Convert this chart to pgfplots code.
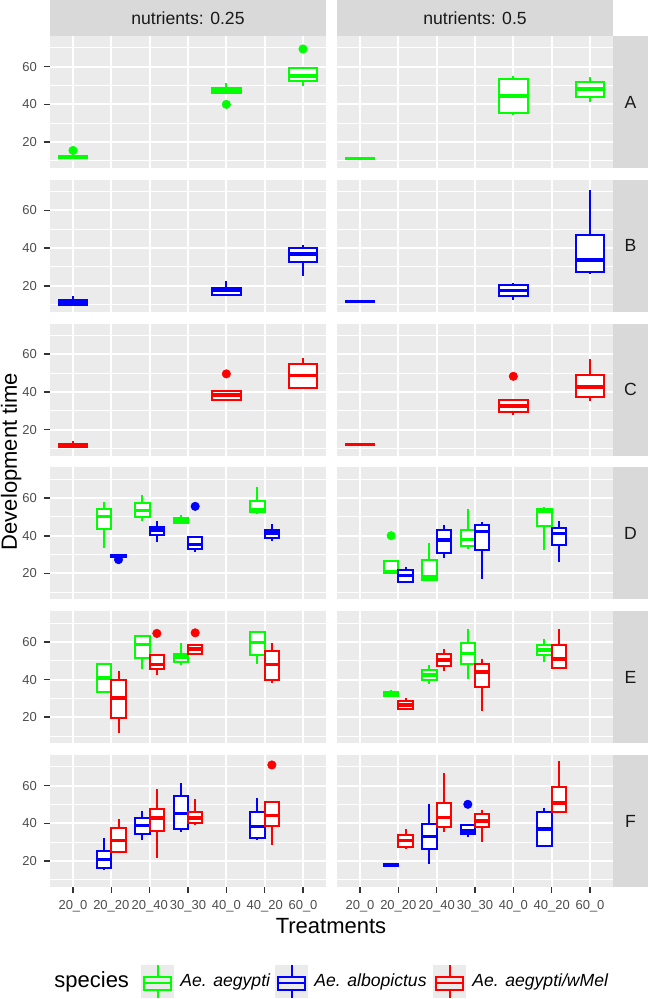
\documentclass[border=0pt]{standalone}
\usepackage{fontspec}
\setmainfont{Liberation Sans}
\usepackage{pgfplots}
\pgfplotsset{compat=1.18}
\usepgfplotslibrary{groupplots}

\definecolor{panelbg}{HTML}{EBEBEB}
\definecolor{stripbg}{HTML}{D9D9D9}
\definecolor{ticklab}{HTML}{4D4D4D}
\definecolor{tickcol}{HTML}{333333}
\definecolor{cg}{HTML}{00FF00}
\definecolor{cb}{HTML}{0000FF}
\definecolor{cr}{HTML}{FF0000}

% one box: colour, position, half width, lower whisker, Q1, median, Q3, upper whisker
\newcommand{\B}[8]{%
  \pgfmathsetmacro\xa{#2-#3}\pgfmathsetmacro\xb{#2+#3}%
  \edef\tmp{%
    \noexpand\addplot[#1, line width=1pt] coordinates {(#2,#4) (#2,#8)};
    \noexpand\addplot[#1, line width=1pt, fill=white, line join=miter]
      coordinates {(\xa,#5) (\xb,#5) (\xb,#7) (\xa,#7) (\xa,#5)} -- cycle;
    \noexpand\addplot[#1, line width=1.8pt] coordinates {(\xa,#6) (\xb,#6)};
  }\tmp}
% outliers: colour, points
\newcommand{\Ou}[2]{\addplot[#1, only marks, mark=*, mark size=2.1pt,
  mark options={solid, fill=#1, draw=#1, line width=0.3pt}] coordinates {#2};}

\newcommand{\legkey}[2]{%
  \fill[panelbg] (#2pt-8.25pt,-482.5pt) rectangle (#2pt+8.25pt,-499pt);
  \draw[#1, line width=1pt] (#2pt,-482.5pt) -- (#2pt,-488.3pt) (#2pt,-495pt) -- (#2pt,-499pt);
  \draw[#1, line width=1pt] (#2pt-6.9pt,-488.3pt) rectangle (#2pt+6.9pt,-495pt);
  \draw[#1, line width=1pt] (#2pt-6.9pt,-491.65pt) -- (#2pt+6.9pt,-491.65pt);}

\pgfplotsset{
  noxt/.style={xtick style={draw=none}, xticklabels={}},
  noyt/.style={ytick style={draw=none}, yticklabels={}},
}

\begin{document}
\begin{tikzpicture}
\begin{groupplot}[
  group style={group size=2 by 6, horizontal sep=5.5pt, vertical sep=5.9pt},
  width=138pt, height=66pt, scale only axis,
  xmin=0.4, xmax=7.6, ymin=6.2, ymax=76.3,
  xtick={1,...,7}, ytick={20,40,60}, minor ytick={10,30,50,70},
  xticklabels={20\_0,20\_20,20\_40,30\_30,40\_0,40\_20,60\_0},
  axis background/.style={fill=panelbg},
  axis line style={draw=none},
  xmajorgrids, ymajorgrids, yminorgrids,
  major grid style={white, line width=1pt},
  minor grid style={white, line width=0.5pt},
  tick align=outside, tick pos=left,
  major tick length=3pt, minor tick length=0pt,
  tick style={tickcol, line width=0.8pt},
  ticklabel style={font=\fontsize{6.5}{7.5}\selectfont, text=ticklab},
  /pgf/number format/assume math mode=true,
]
% ---- A
\nextgroupplot[noxt]
\B{cg}{1}{0.375}{11}{11.5}{12}{12.7}{13.5}
\B{cg}{5}{0.375}{46}{46.2}{47.5}{48.8}{51.2}
\B{cg}{7}{0.375}{49.8}{52.4}{55}{59.1}{59.1}
\Ou{cg}{(1,15.5) (5,40) (7,69.4)}
\nextgroupplot[noxt,noyt]
\B{cg}{1}{0.375}{10.8}{11}{11.3}{11.6}{11.8}
\B{cg}{5}{0.375}{34.4}{35.3}{44.5}{53.5}{55}
\B{cg}{7}{0.375}{41.1}{43.8}{48}{52.1}{54.7}
% ---- B
\nextgroupplot[noxt]
\B{cb}{1}{0.375}{9.4}{9.6}{10.9}{12.2}{14.7}
\B{cb}{5}{0.375}{14.7}{15.1}{17.6}{18.8}{22.3}
\B{cb}{7}{0.375}{25.4}{32.6}{37}{40.1}{41.8}
\nextgroupplot[noxt,noyt]
\B{cb}{1}{0.375}{11.2}{11.3}{11.6}{11.9}{12}
\B{cb}{5}{0.375}{12.6}{14.7}{17.6}{20.6}{21.5}
\B{cb}{7}{0.375}{26.4}{27.1}{33.8}{47.1}{71}
% ---- C
\nextgroupplot[noxt]
\B{cr}{1}{0.375}{10.3}{10.5}{11.6}{12.6}{14.2}
\B{cr}{5}{0.375}{35.4}{35.6}{38.3}{40.4}{40.4}
\B{cr}{7}{0.375}{42.2}{42.2}{48.7}{55.1}{58.1}
\Ou{cr}{(5,49.6)}
\nextgroupplot[noxt,noyt]
\B{cr}{1}{0.375}{11.6}{11.8}{12.1}{12.4}{12.8}
\B{cr}{5}{0.375}{27.5}{29.4}{32.4}{35.6}{35.6}
\B{cr}{7}{0.375}{35}{37.2}{42.5}{49.2}{57.6}
\Ou{cr}{(5,48.3)}
% ---- D
\nextgroupplot[noxt]
\B{cg}{1.8125}{0.1875}{33.5}{43.6}{50.3}{54}{57.9}
\B{cb}{2.1875}{0.1875}{28.6}{28.8}{29.5}{30}{30.2}
\B{cg}{2.8125}{0.1875}{47.8}{49.9}{53.5}{57.3}{61.4}
\B{cb}{3.1875}{0.1875}{36.7}{40.4}{43}{44.8}{47.6}
\B{cg}{3.8125}{0.1875}{47}{47}{48.3}{49.4}{51.2}
\B{cb}{4.1875}{0.1875}{31.6}{33}{35.3}{39.5}{39.5}
\B{cg}{5.8125}{0.1875}{51.3}{52.4}{54}{58.4}{65.8}
\B{cb}{6.1875}{0.1875}{37.3}{38.9}{41.6}{43.1}{46}
\Ou{cb}{(2.1875,27.3) (4.1875,55.6)}
\nextgroupplot[noxt,noyt]
\B{cg}{1.8125}{0.1875}{20.1}{20.1}{20.8}{26.7}{26.7}
\B{cb}{2.1875}{0.1875}{14.8}{15.2}{18.8}{21.9}{23.2}
\B{cg}{2.8125}{0.1875}{16.7}{16.7}{18}{27.3}{36}
\B{cb}{3.1875}{0.1875}{28}{30.9}{37.6}{43.3}{45.6}
\B{cg}{3.8125}{0.1875}{33.2}{34.5}{38.1}{43.3}{54}
\B{cb}{4.1875}{0.1875}{17.2}{32.2}{42.3}{45.8}{47.5}
\B{cg}{5.8125}{0.1875}{32.6}{45.2}{52.9}{54.4}{55.2}
\B{cb}{6.1875}{0.1875}{26}{35}{41.2}{44.3}{48}
\Ou{cg}{(1.8125,40)}
% ---- E
\nextgroupplot[noxt]
\B{cg}{1.8125}{0.1875}{33}{33.2}{40.9}{48}{48.3}
\B{cr}{2.1875}{0.1875}{11.7}{19.7}{30.3}{39.7}{44.5}
\B{cg}{2.8125}{0.1875}{45.4}{51.5}{58.6}{63}{63.9}
\B{cr}{3.1875}{0.1875}{42.3}{45.5}{48}{53}{53}
\B{cg}{3.8125}{0.1875}{47.6}{49.1}{52}{53.8}{59.5}
\B{cr}{4.1875}{0.1875}{53.5}{53.5}{56.1}{58.3}{58.3}
\B{cg}{5.8125}{0.1875}{48.5}{53}{59.7}{65.3}{66}
\B{cr}{6.1875}{0.1875}{38.3}{39.7}{48}{55.2}{59.2}
\Ou{cr}{(3.1875,64.5) (4.1875,64.8)}
\nextgroupplot[noxt,noyt]
\B{cg}{1.8125}{0.1875}{31.2}{31.2}{32.3}{33.2}{34.4}
\B{cr}{2.1875}{0.1875}{23.8}{24.3}{26.5}{28.7}{30.3}
\B{cg}{2.8125}{0.1875}{37.6}{39.7}{42.3}{45}{47.6}
\B{cr}{3.1875}{0.1875}{44.6}{47.3}{50.3}{53.5}{56.1}
\B{cg}{3.8125}{0.1875}{40.2}{48.2}{53.8}{59.2}{67.1}
\B{cr}{4.1875}{0.1875}{23.4}{36.1}{44.1}{48.2}{50.7}
\B{cg}{5.8125}{0.1875}{49.4}{53}{55.6}{58.3}{61.4}
\B{cr}{6.1875}{0.1875}{45.9}{45.9}{50.9}{58.6}{67.1}
% ---- F
\nextgroupplot[]
\B{cb}{1.8125}{0.1875}{15.3}{16.2}{20.8}{25.4}{32.1}
\B{cr}{2.1875}{0.1875}{24.1}{25}{30.9}{37.4}{42.3}
\B{cb}{2.8125}{0.1875}{30.9}{34.2}{38.8}{43}{46.7}
\B{cr}{3.1875}{0.1875}{21.8}{36}{42.7}{47.6}{58.1}
\B{cb}{3.8125}{0.1875}{35.6}{37}{45.3}{54.7}{61.6}
\B{cr}{4.1875}{0.1875}{39.2}{40.4}{42.7}{45.9}{52.9}
\B{cb}{5.8125}{0.1875}{31.2}{32.1}{38.3}{46.2}{53.3}
\B{cr}{6.1875}{0.1875}{28.5}{38.6}{44.1}{51.5}{51.5}
\Ou{cr}{(6.1875,71)}
\nextgroupplot[noyt]
\B{cb}{1.8125}{0.1875}{16.9}{17.2}{17.8}{18.4}{18.7}
\B{cr}{2.1875}{0.1875}{26.6}{27.6}{30.9}{33.8}{36.9}
\B{cb}{2.8125}{0.1875}{18.3}{26.4}{33}{39.7}{50.1}
\B{cr}{3.1875}{0.1875}{35.6}{37.9}{43}{51}{66.9}
\B{cb}{3.8125}{0.1875}{32.6}{34.2}{36}{39.2}{39.2}
\B{cr}{4.1875}{0.1875}{30.3}{37.8}{41.3}{44.9}{47.1}
\B{cb}{5.8125}{0.1875}{28.2}{28.2}{36.9}{46.2}{48}
\B{cr}{6.1875}{0.1875}{45.3}{45.9}{50.7}{59.2}{73.1}
\Ou{cb}{(3.8125,50.1)}
\end{groupplot}

% strips
\foreach \c/\t in {1/0.25,2/0.5}{
  \fill[stripbg] (group c\c r1.north west) rectangle ([yshift=18pt]group c\c r1.north east);
  \node[anchor=base, inner sep=0, font=\fontsize{8.8}{10}\selectfont, text=black!90]
    at ([yshift=5.8pt]group c\c r1.north) {nutrients: \t};
}
\foreach \r/\l in {1/A,2/B,3/C,4/D,5/E,6/F}{
  \fill[stripbg] (group c2r\r.north east) rectangle ([xshift=17.5pt]group c2r\r.south east);
  \node[anchor=center, inner sep=0, font=\fontsize{8.8}{10}\selectfont, text=black!90]
    at ([xshift=8.75pt]group c2r\r.east) {\l};
}

\coordinate (O) at ([xshift=-25pt, yshift=18pt]group c1r1.north west);
\begin{scope}[shift={(O)}]
  \node[rotate=90, anchor=north, inner sep=0, font=\fontsize{11}{13}\selectfont]
    at (0.3pt,-230.75pt) {Development time};
  \node[anchor=base, inner sep=0, font=\fontsize{11}{13}\selectfont]
    at (165.5pt,-466.7pt) {Treatments};
  \node[anchor=base west, inner sep=0, font=\fontsize{11}{13}\selectfont]
    at (27pt,-493.6pt) {species};
  \legkey{cg}{78.75}
  \legkey{cb}{145.75}
  \legkey{cr}{224.75}
  \node[anchor=base west, inner sep=0, font=\fontsize{8.8}{10}\selectfont\itshape]
    at (90pt,-493.3pt) {Ae. aegypti};
  \node[anchor=base west, inner sep=0, font=\fontsize{8.8}{10}\selectfont\itshape]
    at (157pt,-493.3pt) {Ae. albopictus};
  \node[anchor=base west, inner sep=0, font=\fontsize{8.8}{10}\selectfont\itshape]
    at (236pt,-493.3pt) {Ae. aegypti/wMel};
  \path[use as bounding box] (0,0) rectangle (323.5pt,-499.5pt);
\end{scope}
\end{tikzpicture}
\end{document}
